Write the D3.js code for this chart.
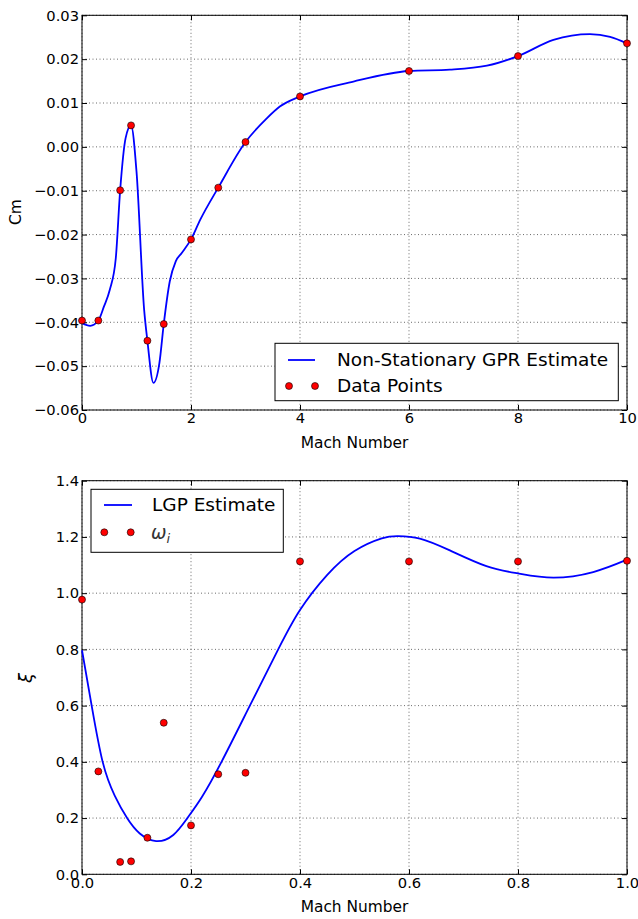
<!DOCTYPE html>
<html>
<head>
<meta charset="utf-8">
<script src="https://cdn.jsdelivr.net/npm/d3@7"></script>
<style>
  body { margin: 0; background: #fff; }
  svg { display: block; font-family: "DejaVu Sans", sans-serif; }
  .grid line { stroke: #444; stroke-width: 0.8; stroke-dasharray: 1,2.5; }
  .axis text { font-family: "DejaVu Sans", sans-serif; font-size: 14.7px; fill: #000; }
  .axis path { display: none; }
  .axis line { stroke: #000; stroke-width: 1; }
</style>
</head>
<body>
<div id="chart"></div>
<script>
// --- top chart: Cm vs Mach ---
var cmMach = [0, 0.3, 0.7, 0.9, 1.2, 1.5, 2, 2.5, 3, 4, 6, 8, 10];
var cmData = [-0.0396, -0.0396, -0.0099, 0.0049, -0.0442, -0.0404, -0.0211, -0.0093, 0.0011, 0.0115, 0.0173, 0.0207, 0.0236];
var cmFitMach = [0, 0.15, 0.3, 0.4, 0.51, 0.62, 0.7, 0.8, 0.9, 1.0, 1.14, 1.2, 1.31, 1.42, 1.5, 1.61, 1.72, 1.83, 2.0, 2.17, 2.5, 3.0, 3.39, 3.63, 4.0, 4.98, 6.0, 6.75, 7.43, 8.0, 8.65, 9.32, 9.69, 10];
var cmFit = [-0.0402, -0.0408, -0.0396, -0.0365, -0.0326, -0.0254, -0.0099, 0.0020, 0.0049, -0.0056, -0.0371, -0.0442, -0.0538, -0.0493, -0.0404, -0.0307, -0.0261, -0.0242, -0.0211, -0.0166, -0.0093, 0.0011, 0.0065, 0.0092, 0.0115, 0.0149, 0.0173, 0.0176, 0.0185, 0.0207, 0.0244, 0.0257, 0.0251, 0.0236];
var cmXTicks = [0, 2, 4, 6, 8, 10];
var cmYTicks = [-0.06, -0.05, -0.04, -0.03, -0.02, -0.01, 0, 0.01, 0.02, 0.03];

// --- bottom chart: xi vs Mach ---
var xiMach = [0, 0.03, 0.07, 0.09, 0.12, 0.15, 0.2, 0.25, 0.3, 0.4, 0.6, 0.8, 1.0];
var xiData = [0.977, 0.366, 0.044, 0.046, 0.130, 0.539, 0.174, 0.356, 0.361, 1.113, 1.113, 1.113, 1.115];
var xiFitMach = [0, 0.0178, 0.038, 0.06, 0.083, 0.106, 0.136, 0.1675, 0.193, 0.22, 0.256, 0.308, 0.36, 0.4, 0.45, 0.5, 0.55, 0.58, 0.62, 0.675, 0.742, 0.8, 0.865, 0.938, 1.0];
var xiFit = [0.797, 0.599, 0.399, 0.28, 0.199, 0.145, 0.118, 0.140, 0.199, 0.275, 0.4, 0.6, 0.8, 0.94, 1.065, 1.15, 1.195, 1.203, 1.194, 1.152, 1.096, 1.07, 1.055, 1.075, 1.119];
var xiXTicks = [0, 0.2, 0.4, 0.6, 0.8, 1.0];
var xiYTicks = [0, 0.2, 0.4, 0.6, 0.8, 1.0, 1.2, 1.4];

var svg = d3.select("#chart").append("svg")
    .attr("width", 638)
    .attr("height", 919);

function drawPanel(opt) {
    var left = 82, right = 627;
    var x = d3.scaleLinear().domain(opt.xDomain).range([left, right]);
    var y = d3.scaleLinear().domain(opt.yDomain).range([opt.bottom, opt.top]);
    var g = svg.append("g");

    // dotted grid
    var grid = g.append("g").attr("class", "grid");
    grid.selectAll(".gx").data(opt.xTicks).enter().append("line")
        .attr("x1", d => x(d)).attr("x2", d => x(d))
        .attr("y1", opt.top).attr("y2", opt.bottom);
    grid.selectAll(".gy").data(opt.yTicks).enter().append("line")
        .attr("x1", left).attr("x2", right)
        .attr("y1", d => y(d)).attr("y2", d => y(d));

    // axes with inward ticks on all sides
    g.append("g").attr("class", "axis")
        .attr("transform", `translate(0,${opt.bottom})`)
        .call(d3.axisBottom(x).tickValues(opt.xTicks).tickFormat(d3.format(opt.xFmt))
            .tickSizeInner(-5).tickSizeOuter(0).tickPadding(3));
    g.append("g").attr("class", "axis")
        .attr("transform", `translate(0,${opt.top})`)
        .call(d3.axisTop(x).tickValues(opt.xTicks).tickFormat("")
            .tickSizeInner(-5).tickSizeOuter(0));
    g.append("g").attr("class", "axis")
        .attr("transform", `translate(${left},0)`)
        .call(d3.axisLeft(y).tickValues(opt.yTicks).tickFormat(d3.format(opt.yFmt))
            .tickSizeInner(-5).tickSizeOuter(0).tickPadding(3));
    g.append("g").attr("class", "axis")
        .attr("transform", `translate(${right},0)`)
        .call(d3.axisRight(y).tickValues(opt.yTicks).tickFormat("")
            .tickSizeInner(-5).tickSizeOuter(0));

    // frame
    g.append("rect")
        .attr("x", left).attr("y", opt.top)
        .attr("width", right - left).attr("height", opt.bottom - opt.top)
        .attr("fill", "none").attr("stroke", "#000").attr("stroke-width", 1);

    // fitted curve
    var line = d3.line()
        .x(d => x(d[0]))
        .y(d => y(d[1]))
        .curve(opt.curve);
    g.append("path")
        .datum(opt.fitX.map((v, i) => [v, opt.fitY[i]]))
        .attr("d", line)
        .attr("fill", "none")
        .attr("stroke", "#0000ff")
        .attr("stroke-width", 1.8);

    // data points
    g.selectAll(".pt").data(opt.ptX.map((v, i) => [v, opt.ptY[i]])).enter()
        .append("circle")
        .attr("cx", d => x(d[0]))
        .attr("cy", d => y(d[1]))
        .attr("r", 3.5)
        .attr("fill", "#ff0000")
        .attr("stroke", "#000")
        .attr("stroke-width", 0.6);

    // x axis label
    g.append("text")
        .attr("x", (left + right) / 2)
        .attr("y", opt.bottom + 38)
        .attr("text-anchor", "middle")
        .attr("font-size", 15.4)
        .text("Mach Number");

    return {x: x, y: y, g: g};
}

var top1 = drawPanel({
    top: 15.3, bottom: 410,
    xDomain: [0, 10], yDomain: [-0.06, 0.03],
    xTicks: cmXTicks, yTicks: cmYTicks, xFmt: "d", yFmt: ".2f",
    fitX: cmFitMach, fitY: cmFit, ptX: cmMach, ptY: cmData,
    curve: d3.curveMonotoneX
});
top1.g.append("text")
    .attr("transform", "translate(21,212) rotate(-90)")
    .attr("text-anchor", "middle")
    .attr("font-size", 15.4)
    .text("Cm");

var bot = drawPanel({
    top: 480.7, bottom: 874.3,
    xDomain: [0, 1], yDomain: [0, 1.4],
    xTicks: xiXTicks, yTicks: xiYTicks, xFmt: ".1f", yFmt: ".1f",
    fitX: xiFitMach, fitY: xiFit, ptX: xiMach, ptY: xiData,
    curve: d3.curveNatural
});
bot.g.append("text")
    .attr("transform", "translate(32,678) rotate(-90)")
    .attr("text-anchor", "middle")
    .attr("font-size", 18)
    .attr("font-style", "italic")
    .text("ξ");

// legends
function legend(box, rows) {
    var lg = svg.append("g");
    lg.append("rect")
        .attr("x", box[0]).attr("y", box[1])
        .attr("width", box[2]).attr("height", box[3])
        .attr("fill", "#fff").attr("stroke", "#000").attr("stroke-width", 1);
    rows.forEach(function(r) {
        if (r.type === "line") {
            lg.append("line")
                .attr("x1", r.x1).attr("x2", r.x2)
                .attr("y1", r.y).attr("y2", r.y)
                .attr("stroke", "#0000ff").attr("stroke-width", 1.8);
        } else {
            [r.x1, r.x2].forEach(function(cx) {
                lg.append("circle")
                    .attr("cx", cx).attr("cy", r.y).attr("r", 3.5)
                    .attr("fill", "#ff0000").attr("stroke", "#000").attr("stroke-width", 0.6);
            });
        }
        var t = lg.append("text")
            .attr("x", r.tx).attr("y", r.y)
            .attr("dy", "0.35em")
            .attr("font-size", 18.5);
        if (r.math) {
            t.append("tspan").attr("font-style", "italic").attr("fill", "#333").text("ω");
            t.append("tspan").attr("font-style", "italic").attr("fill", "#333")
                .attr("font-size", 13).attr("dy", "0.3em").text("i");
        } else {
            t.text(r.label);
        }
    });
}

legend([275, 343.3, 343.3, 57.4], [
    {type: "line", x1: 288, x2: 315, y: 360, tx: 337, label: "Non-Stationary GPR Estimate"},
    {type: "dots", x1: 289, x2: 315, y: 386, tx: 337, label: "Data Points"}
]);
legend([91, 489.3, 192.3, 63], [
    {type: "line", x1: 104, x2: 132, y: 505, tx: 152, label: "LGP Estimate"},
    {type: "dots", x1: 104.3, x2: 130.7, y: 532.3, tx: 151, math: true}
]);
</script>
</body>
</html>
